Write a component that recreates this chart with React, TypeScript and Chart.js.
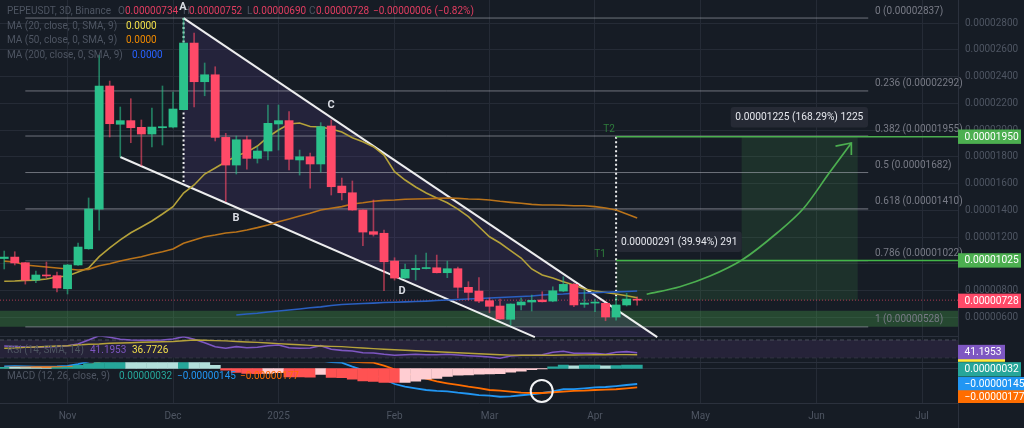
import { useEffect, useRef } from "react";
import { Chart, registerables } from "chart.js";

Chart.register(...registerables);

// all prices are in 1e-8 USDT, bar index 0 = the "Nov" bar
const firstBar = -6;
const opens = [1039, 1050, 1008, 878, 915, 911, 813, 991, 1112, 1409, 2329, 2043, 2070, 2020, 1970, 2017, 2022, 2152, 2650, 2361, 2413, 1945, 1738, 1927, 1788, 1843, 2045, 2070, 1776, 1800, 1746, 2030, 1581, 1531, 1402, 1240, 1228, 1020, 893, 956, 964, 970, 933, 963, 824, 796, 724, 684, 585, 692, 714, 729, 721, 796, 846, 697, 706, 704, 602, 692, 734];
const closes = [1050, 1006, 878, 916, 909, 819, 991, 1125, 1409, 2329, 2047, 2070, 2017, 1970, 2022, 2025, 2157, 2650, 2361, 2413, 1945, 1738, 1927, 1788, 1843, 2050, 2070, 1781, 1800, 1746, 2025, 1576, 1531, 1402, 1237, 1220, 1015, 893, 958, 966, 970, 933, 963, 824, 786, 721, 682, 587, 699, 714, 727, 716, 798, 846, 692, 706, 712, 602, 692, 736, 728];
const highs = [1095, 1090, 1010, 946, 1013, 938, 995, 1155, 1492, 2561, 2366, 2172, 2234, 2075, 2164, 2329, 2284, 2837, 2725, 2501, 2473, 1975, 1955, 1955, 1873, 2187, 2187, 2137, 1850, 1828, 2055, 2075, 1641, 1619, 1404, 1477, 1252, 1045, 998, 1065, 1080, 1065, 1020, 976, 866, 896, 744, 736, 701, 744, 766, 791, 828, 903, 854, 804, 736, 706, 751, 779, 752];
const lows = [961, 991, 848, 858, 893, 789, 774, 988, 1108, 1252, 1948, 1798, 1905, 1733, 1873, 1888, 2015, 2150, 2172, 2256, 1918, 1464, 1671, 1708, 1753, 1776, 1850, 1701, 1663, 1566, 1686, 1514, 1477, 1400, 1135, 1207, 798, 878, 890, 878, 961, 931, 896, 744, 729, 709, 634, 585, 542, 654, 647, 714, 716, 791, 679, 674, 641, 574, 579, 684, 690];

const ma20 = [869, 871, 876, 878, 886, 901, 908, 938, 968, 1053, 1118, 1178, 1232, 1275, 1320, 1372, 1427, 1529, 1589, 1671, 1716, 1763, 1806, 1835, 1880, 1948, 2000, 2045, 2052, 2026, 2022, 2007, 1985, 1942, 1912, 1875, 1813, 1688, 1626, 1574, 1529, 1492, 1456, 1409, 1352, 1277, 1202, 1155, 1098, 1043, 961, 916, 893, 866, 841, 811, 796, 786, 774, 761, 746];
const ma50 = [1020, 1013, 991, 983, 976, 968, 961, 953, 958, 985, 1000, 1020, 1038, 1053, 1073, 1090, 1110, 1153, 1178, 1202, 1215, 1230, 1237, 1252, 1270, 1290, 1314, 1335, 1357, 1377, 1402, 1415, 1427, 1447, 1456, 1467, 1474, 1477, 1482, 1484, 1486, 1489, 1492, 1489, 1484, 1482, 1477, 1467, 1459, 1452, 1444, 1439, 1439, 1437, 1434, 1434, 1427, 1417, 1402, 1372, 1342];
const firstMa200 = 16;
const ma200 = [617, 624, 630, 639, 647, 654, 662, 671, 678, 688, 695, 699, 703, 706, 710, 712, 715, 718, 721, 725, 729, 733, 736, 740, 744, 748, 751, 755, 759, 766, 771, 774, 779, 781, 784, 787, 790, 793, 796];

const rsi = [56.4, 55.3, 54.2, 53.5, 54.2, 55.3, 57.1, 61, 70, 79.7, 76.1, 71.6, 70, 69.3, 69.3, 70, 72.3, 77.5, 71.6, 63.9, 54.9, 51.2, 54.9, 52.6, 53.5, 57.1, 58.7, 52.6, 51.2, 51.9, 57.1, 49, 46.5, 45.1, 41.3, 40.6, 37.7, 35.4, 36.8, 37.7, 36.8, 36.8, 37.7, 36.1, 34.5, 33.2, 31.6, 28.6, 33.8, 35.4, 35.4, 36.8, 42.2, 44.5, 40, 40, 40, 37.7, 42.2, 43.6, 41.2];
const rsiMa = [51.5, 51.9, 53.3, 54.2, 55.3, 56.4, 57.1, 58.7, 60.3, 61, 62.5, 63.2, 63.9, 64.8, 65.5, 65.9, 66.6, 68.2, 70, 69.3, 68.6, 68, 66.6, 65.5, 64.6, 63.2, 61.9, 60.5, 59.2, 57.8, 56.4, 55.5, 54.9, 53.3, 51.9, 50.6, 49.2, 48.1, 46.7, 45.6, 44.5, 43.3, 42.2, 41.1, 39.9, 38.8, 37.7, 36.8, 35.9, 35.4, 35.4, 35.6, 35.6, 36.1, 36.1, 36.3, 36.6, 36.8, 37, 37, 36.8];

const macdHist = [12, 10, 8, 6, 5, 8, 14, 30, 45, 90, 120, 130, 125, 115, 105, 95, 85, 95, 80, 60, 30, -15, -37, -47, -48, -47, -40, -78, -79, -80, -56, -84, -85, -100, -115, -121, -129, -131, -130, -118, -100, -93, -75, -62, -59, -53, -50, -49, -34, -25, -12, -3, 15, 31, 25, 31, 33, 25, 28, 31, 32];
const macdLine = [20, 22, 20, 18, 18, 20, 25, 40, 65, 170, 300, 350, 380, 400, 410, 420, 430, 460, 440, 400, 340, 290, 250, 210, 180, 160, 150, 130, 110, 90, 75, 60, 54, 17, -14, -51, -101, -145, -170, -185, -201, -210, -213, -226, -236, -248, -254, -264, -260, -250, -241, -229, -213, -194, -192, -185, -176, -173, -164, -154, -145];
const macdSignal = [8, 10, 11, 12, 12, 13, 15, 20, 25, 60, 120, 170, 210, 250, 280, 310, 330, 350, 365, 370, 365, 350, 335, 310, 285, 260, 240, 210, 180, 150, 120, 95, 75, 62, 58, 54, 26, -7, -39, -70, -95, -120, -138, -154, -170, -183, -201, -207, -217, -226, -229, -229, -222, -217, -210, -207, -201, -198, -194, -185, -177];

const fibLevels = ["0", "0.236", "0.382", "0.5", "0.618", "0.786", "1"];
const fibValues = [2837, 2292, 1955, 1682, 1410, 1022, 528];
const fibStart = -4;
const fibEnd = 75.9;

const monthBars = [0, 10, 20, 31, 40, 50, 60, 71, 81];
const monthLabels = ["Nov", "Dec", "2025", "Feb", "Mar", "Apr", "May", "Jun", "Jul"];
const priceTicks = [600, 800, 1000, 1200, 1400, 1600, 1800, 2000, 2200, 2400, 2600, 2800];

const xMin = -6.4;
const xMax = 84.41;

const upperTrend = [{ x: 11, y: 2837 }, { x: 55.9, y: 452 }];
const lowerTrend = [{ x: 5, y: 1798 }, { x: 44.3, y: 452 }];
const wedge = [{ x: 11, y: 2837 }, { x: 55.9, y: 452 }, { x: 44.3, y: 452 }, { x: 11, y: 1596 }];
const arrowCurve = [
	{ x: 54.9, y: 772 }, { x: 58.05, y: 828 }, { x: 60.9, y: 908 }, { x: 63.93, y: 1028 },
	{ x: 67.25, y: 1230 }, { x: 69.8, y: 1417 }, { x: 72.2, y: 1678 }, { x: 74.3, y: 1903 },
];
const arrowHead = [{ x: 72.8, y: 1880 }, { x: 74.3, y: 1903 }, { x: 74.3, y: 1813 }];
const targetZone = [
	{ x: 52, y: 1025 }, { x: 63.9, y: 1025 }, { x: 63.9, y: 1950 }, { x: 74.9, y: 1950 }, { x: 74.9, y: 728 }, { x: 52, y: 728 },
];
const supportZone = [{ x: xMin, y: 649 }, { x: xMax, y: 649 }, { x: xMax, y: 529 }, { x: xMin, y: 529 }];

const GREEN = "#2bc18b";
const RED = "#ff4a68";
const TARGET = "#4caf50";
const FONT = "Roboto, sans-serif";

const barX = (i: number, first = firstBar) => first + i;
const series = (values: number[], first = firstBar) => values.map((y, i) => ({ x: barX(i, first), y }));
const hline = (y: number, a = xMin, b = xMax) => [{ x: a, y }, { x: b, y }];
const isUp = (i: number) => closes[i] >= opens[i];

function histColor(i: number) {
	const v = macdHist[i];
	const prev = i > 0 ? macdHist[i - 1] : 0;
	if (v >= 0) return v >= prev ? "#26a69a" : "#b2dfdb";
	return v <= prev ? "#ff5252" : "#ffcdd2";
}

function priceText(v: number) {
	return (v / 1e8).toFixed(8);
}

const paneClip = { left: 0, right: 0, top: -362.3, bottom: 0 };
const rsiClip = { left: 0, right: 0, top: -336.6, bottom: -41 };

function lineSet(data: any[], color: string, width: number, order: number, extra: any = {}) {
	return {
		type: "line",
		data,
		borderColor: color,
		borderWidth: width,
		pointRadius: 0,
		tension: 0,
		fill: false,
		order,
		xAxisID: "x",
		yAxisID: "y",
		...extra,
	};
}

function shapeSet(data: any[], color: string, order: number) {
	return lineSet(data, "transparent", 0, order, { fill: "shape", backgroundColor: color });
}

const overlay = {
	id: "overlay",
	beforeDatasetsDraw(chart: any) {
		const { ctx } = chart;
		ctx.save();
		ctx.strokeStyle = "#2b313d";
		ctx.lineWidth = 1;
		ctx.beginPath();
		ctx.moveTo(0, 336.5);
		ctx.lineTo(958, 336.5);
		ctx.moveTo(0, 362.5);
		ctx.lineTo(958, 362.5);
		ctx.moveTo(958.5, 403);
		ctx.lineTo(958.5, 428);
		ctx.stroke();
		ctx.restore();
	},
	afterDraw(chart: any) {
		const { ctx, scales } = chart;
		const text = (s: string, x: number, y: number, color: string, font = `10px ${FONT}`, align = "left") => {
			ctx.font = font;
			ctx.fillStyle = color;
			ctx.textAlign = align;
			ctx.textBaseline = "middle";
			ctx.fillText(s, x, y);
		};
		ctx.save();

		const dim = "#4e5562";
		const valueRed = "#e23d60";
		text("PEPEUSDT, 3D, Binance", 7, 11, dim);
		text("O", 118, 11, dim);
		text("0.00000734", 125, 11, valueRed);
		text("H", 183, 11, dim);
		text("0.00000752", 189, 11, valueRed);
		text("L", 247, 11, dim);
		text("0.00000690", 253, 11, valueRed);
		text("C", 309, 11, dim);
		text("0.00000728", 316, 11, valueRed);
		text("−0.00000006 (−0.82%)", 373, 11, valueRed);
		text("MA (20, close, 0, SMA, 9)", 7, 26, dim);
		text("0.0000", 126, 26, "#f2e04a");
		text("MA (50, close, 0, SMA, 9)", 7, 40, dim);
		text("0.0000", 126, 40, "#f08a00");
		text("MA (200, close, 0, SMA, 9)", 7, 55, dim);
		text("0.0000", 132, 55, "#2962ff");
		text("RSI (14, SMA, 14)", 7, 350, dim);
		text("41.1953", 90, 350, "#7e57c2");
		text("36.7726", 132, 350, "#f2e04a");
		text("MACD (12, 26, close, 9)", 7, 376, dim);
		text("0.00000032", 119, 376, "#26a69a");
		text("−0.00000145", 177, 376, "#2196f3");
		text("−0.00000177", 240, 376, "#ff6d00");

		fibLevels.forEach((level, i) => {
			text(`${level} (${priceText(fibValues[i])})`, 875, scales.y.getPixelForValue(fibValues[i]) - 7, "#787b86");
		});

		const bold = `bold 11px ${FONT}`;
		text("A", 183, 7, "#d8dbe2", bold, "center");
		text("B", 236, 218.5, "#d8dbe2", bold, "center");
		text("C", 331, 105, "#d8dbe2", bold, "center");
		text("D", 402, 291, "#d8dbe2", bold, "center");
		text("T2", 609, 129, "#2f7d3c", `10px ${FONT}`, "center");
		text("T1", 600, 254, "#2f7d3c", `10px ${FONT}`, "center");

		const note = (s: string, x: number, y: number, w: number) => {
			ctx.fillStyle = "#262a35";
			ctx.beginPath();
			ctx.roundRect(x, y, w, 20.5, 3);
			ctx.fill();
			text(s, x + w / 2, y + 10.5, "#e6e8ee", `10.2px ${FONT}`, "center");
		};
		note("0.00001225 (168.29%) 1225", 730.7, 107, 137.3);
		note("0.00000291 (39.94%) 291", 616.7, 231.5, 125);

		// price tags on the right axis, on top of the tick labels
		const tag = (s: string, y: number, right: number, color: string) => {
			const top = y - 7.2;
			ctx.fillStyle = color;
			ctx.fillRect(958, top, right - 958, Math.min(14.4, 403 - top));
			text(s, 964.5, y + 0.3, "#ffffff", `10.2px ${FONT}`);
		};
		tag("0.00001950", scales.y.getPixelForValue(1950), 1021, "#4caf50");
		tag("0.00001025", scales.y.getPixelForValue(1025), 1021, "#4caf50");
		tag("0.00000728", scales.y.getPixelForValue(728) + 0.7, 1021, "#ff4a68");
		ctx.fillStyle = "#ffeb3b";
		ctx.fillRect(958, 359, 47, 2.8);
		tag("41.1953", scales.yRsi.getPixelForValue(41.1953) - 0.7, 1005, "#7e57c2");
		tag("0.00000032", scales.yMacd.getPixelForValue(32) + 4.3, 1021, "#26a69a");
		tag("−0.00000145", scales.yMacd.getPixelForValue(-145) + 0.2, 1024, "#2196f3");
		tag("−0.00000177", scales.yMacd.getPixelForValue(-177) + 10, 1024, "#ff6d00");

		ctx.restore();
	},
};

export default function App() {
	const canvasRef = useRef<HTMLCanvasElement>(null);

	useEffect(() => {
		document.body.style.margin = "0";
		document.body.style.background = "#161c25";
		if (!canvasRef.current) return;

		const white = "rgba(255,255,255,0.92)";
		const fibLines = fibValues.map((v, i) =>
			lineSet(hline(v, fibStart, fibEnd), i === 4 || i === 5 ? "rgba(150,154,165,0.45)" : "rgba(170,173,182,0.6)", i === 4 ? 1.6 : 1, 4),
		);

		const chart = new Chart(canvasRef.current, {
			type: "bar",
			data: {
				datasets: [
					{
						data: macdHist.map((v, i) => ({ x: barX(i), y: v })),
						backgroundColor: macdHist.map((_, i) => histColor(i)),
						barThickness: 10.3,
						grouped: false,
						order: 20,
						xAxisID: "x",
						yAxisID: "yMacd",
						clip: paneClip,
					},
					{
						data: highs.map((h, i) => ({ x: barX(i), y: [lows[i], h] })),
						backgroundColor: highs.map((_, i) => (isUp(i) ? "rgba(43,193,139,0.6)" : "rgba(255,74,104,0.6)")),
						barThickness: 1,
						grouped: false,
						order: 12,
						xAxisID: "x",
						yAxisID: "y",
					},
					{
						data: opens.map((o, i) => ({ x: barX(i), y: [o, closes[i]] })),
						backgroundColor: opens.map((_, i) => (isUp(i) ? GREEN : RED)),
						barThickness: 8.2,
						minBarLength: 1,
						grouped: false,
						order: 11,
						xAxisID: "x",
						yAxisID: "y",
					},
					lineSet(series(ma200, firstMa200), "#2a5fc0", 1.6, { order: 10 }),
					lineSet(series(ma50), "#b9731a", 1.6, { order: 9, tension: 0.2 }),
					lineSet(series(ma20), "#b5a23a", 1.6, { order: 8, tension: 0.2 }),
					shapeSet(targetZone, "rgba(76,175,80,0.15)", 7),
					shapeSet(supportZone, "rgba(76,175,80,0.3)", 6),
					shapeSet(wedge, "rgba(97,63,152,0.2)", 5),
					...fibLines,
					lineSet(upperTrend, white, 2, 3),
					lineSet(lowerTrend, white, 2, 3),
					lineSet(hline(728), "rgba(255,74,104,0.65)", 1, 3, { borderDash: [1, 2] }),
					lineSet(hline(1950, 52, xMax), TARGET, 1.5, 2),
					lineSet(hline(1025, 52, xMax), "#43b649", 1.5, 2),
					lineSet([{ x: 11, y: 2837 }, { x: 11, y: 1596 }], white, 2, 2, { borderDash: [2, 2.5] }),
					lineSet([{ x: 52, y: 1950 }, { x: 52, y: 728 }], white, 2, 2, { borderDash: [2, 2.5] }),
					lineSet(arrowCurve, TARGET, 1.7, 1, { cubicInterpolationMode: "monotone" }),
					lineSet(arrowHead, TARGET, 1.7, 1),
					// rsi pane
					lineSet(hline(70), "#4a4f5b", 1, 21, { yAxisID: "yRsi", borderDash: [4, 3], fill: "+1", backgroundColor: "#262339" }),
					lineSet(hline(30), "#4a4f5b", 1, 21, { yAxisID: "yRsi", borderDash: [4, 3] }),
					lineSet(series(rsiMa), "#b5a23a", 1.4, 2, { yAxisID: "yRsi", clip: rsiClip }),
					lineSet(series(rsi), "#7e57c2", 1.6, 3, { yAxisID: "yRsi", clip: rsiClip }),
					// macd pane
					lineSet(hline(0), "#2b313d", 1, 22, { yAxisID: "yMacd" }),
					lineSet(series(macdLine), "#2196f3", 1.8, 2, { yAxisID: "yMacd", clip: paneClip }),
					lineSet(series(macdSignal), "#ff6d00", 1.8, 1, { yAxisID: "yMacd", clip: paneClip }),
					{
						type: "scatter",
						data: [{ x: 44.95, y: -210 }],
						pointRadius: 11,
						pointBorderWidth: 2,
						pointBorderColor: "#f2f3f5",
						pointBackgroundColor: "transparent",
						order: 0,
						xAxisID: "x",
						yAxisID: "yMacd",
					},
				] as any,
			},
			options: {
				responsive: false,
				animation: false,
				layout: { padding: 0, autoPadding: false },
				plugins: { legend: { display: false }, tooltip: { enabled: false } },
				scales: {
					x: {
						type: "linear",
						offset: false,
						min: xMin,
						max: xMax,
						grid: { color: "#252b36", drawTicks: false, offset: false },
						border: { color: "#2b313d" },
						afterBuildTicks: (s: any) => {
							s.ticks = monthBars.map((value) => ({ value }));
						},
						afterFit: (s: any) => {
							s.height = 25;
							s.paddingLeft = 0;
							s.paddingRight = 0;
						},
						ticks: {
							autoSkip: false,
							maxRotation: 0,
							padding: 7,
							color: "#4e5562",
							font: { family: FONT, size: 10 },
							callback: (v: any) => monthLabels[monthBars.indexOf(v)],
						},
					},
					y: {
						type: "linear",
						position: "right",
						min: -41,
						max: 2972,
						grid: { color: "#252b36", drawTicks: false },
						border: { color: "#2b313d" },
						afterBuildTicks: (s: any) => {
							s.ticks = priceTicks.map((value) => ({ value }));
						},
						afterFit: (s: any) => {
							s.width = 66;
							s.paddingTop = 0;
							s.paddingBottom = 0;
						},
						ticks: {
							autoSkip: false,
							padding: 7,
							color: "#4e5562",
							font: { family: FONT, size: 10 },
							callback: (v: any) => priceText(v),
						},
					},
					yRsi: { axis: "y", type: "linear", display: false, min: -72.4, max: 838.4 },
					yMacd: { axis: "y", type: "linear", display: false, min: -322.4, max: 3444 },
				},
			},
			plugins: [overlay],
		} as any);

		return () => chart.destroy();
	}, []);

	return <canvas ref={canvasRef} width={1024} height={428} style={{ display: "block", width: 1024, height: 428 }} />;
}
